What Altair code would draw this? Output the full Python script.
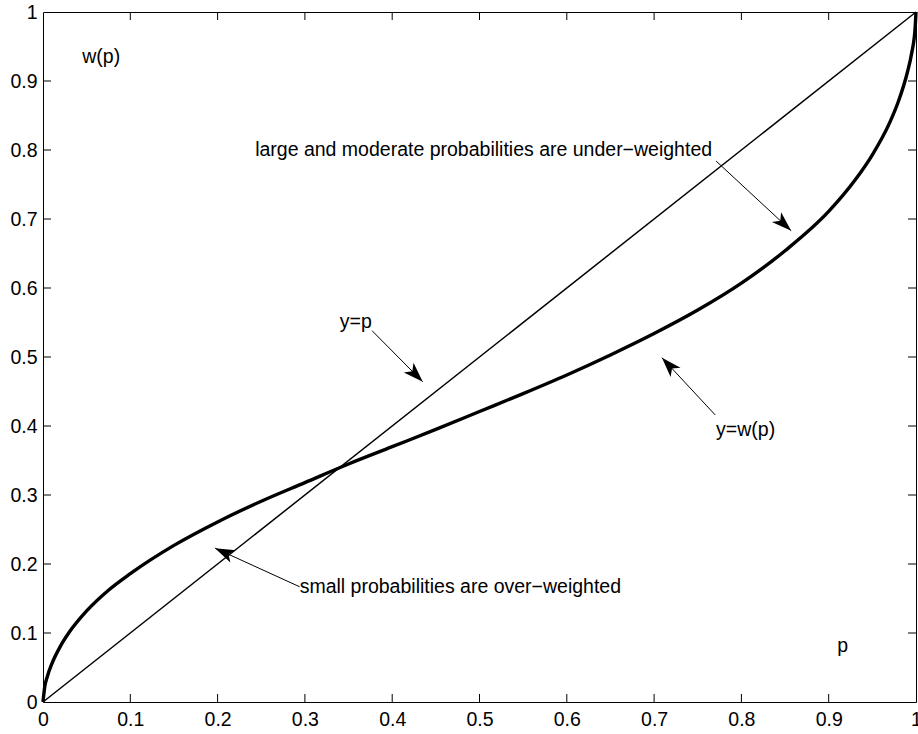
import math
import altair as alt
import pandas as pd

# ---- data ----
p_vals = [0, 0.002, 0.005, 0.01, 0.02, 0.03, 0.05, 0.075, 0.1, 0.15, 0.2, 0.25, 0.3,
          0.35, 0.4, 0.45, 0.5, 0.55, 0.6, 0.65, 0.7, 0.75, 0.8, 0.85, 0.9, 0.93,
          0.95, 0.97, 0.98, 0.99, 0.995, 0.999, 1]
w_vals = [0, 0.022, 0.037, 0.055, 0.081, 0.101, 0.132, 0.162, 0.186, 0.227, 0.261,
          0.291, 0.318, 0.345, 0.370, 0.395, 0.421, 0.447, 0.474, 0.503, 0.534,
          0.568, 0.607, 0.654, 0.711, 0.756, 0.793, 0.840, 0.871, 0.912, 0.940,
          0.977, 1]
diag_p = [0, 1]
tick_vals = [0.1, 0.2, 0.3, 0.4, 0.5, 0.6, 0.7, 0.8, 0.9]
axis_vals = [0, 0.1, 0.2, 0.3, 0.4, 0.5, 0.6, 0.7, 0.8, 0.9, 1]

label_text = ["w(p)", "y=p", "y=w(p)",
              "large and moderate probabilities are under\u2212weighted",
              "small probabilities are over\u2212weighted"]
label_x = [0.045, 0.340, 0.771, 0.243, 0.294]
label_y = [0.935, 0.551, 0.394, 0.800, 0.167]
center_text = ["p"]
center_x = [0.916]
center_y = [0.081]

arrow_x1 = [0.377, 0.770, 0.771, 0.294]
arrow_y1 = [0.538, 0.416, 0.784, 0.167]
arrow_x2 = [0.435, 0.709, 0.857, 0.197]
arrow_y2 = [0.464, 0.499, 0.683, 0.223]

W, H = 873, 690
FONT = "Liberation Sans"
FS = 19.5

curve_df = pd.DataFrame({"p": p_vals, "w": w_vals})
diag_df = pd.DataFrame({"p": diag_p, "w": diag_p})
ticks_df = pd.DataFrame({"t": tick_vals})
labels_df = pd.DataFrame({"x": label_x, "y": label_y, "text": label_text})
center_df = pd.DataFrame({"x": center_x, "y": center_y, "text": center_text})
angles = []
for a, b, c, d in zip(arrow_x1, arrow_y1, arrow_x2, arrow_y2):
    dx = (c - a) * W
    dy = -(d - b) * H
    angles.append((math.degrees(math.atan2(dx, -dy)) + 360) % 360)
arrows_df = pd.DataFrame({"x1": arrow_x1, "y1": arrow_y1, "x2": arrow_x2,
                          "y2": arrow_y2, "angle": angles})

xs = alt.Scale(domain=[0, 1], nice=False, zero=False)
ys = alt.Scale(domain=[0, 1], nice=False, zero=False)

xaxis = alt.Axis(values=axis_vals, format="~g", title=None, grid=False, ticks=False,
                 domain=False, labelFont=FONT, labelFontSize=FS, labelColor="black",
                 labelPadding=8, labelFlush=False)
yaxis = alt.Axis(values=axis_vals, format="~g", title=None, grid=False, ticks=False,
                 domain=False, labelFont=FONT, labelFontSize=FS, labelColor="black",
                 labelPadding=6)

curve = alt.Chart(curve_df).mark_line(color="black", strokeWidth=3.4, interpolate="monotone").encode(
    x=alt.X("p:Q", scale=xs, axis=xaxis),
    y=alt.Y("w:Q", scale=ys, axis=yaxis),
)
diag = alt.Chart(diag_df).mark_line(color="black", strokeWidth=1.5).encode(
    x=alt.X("p:Q", scale=xs), y=alt.Y("w:Q", scale=ys))

tick_b = alt.Chart(ticks_df).mark_rule(color="black", strokeWidth=1).encode(
    x=alt.X("t:Q", scale=xs), y=alt.value(H), y2=alt.value(H - 8))
tick_t = alt.Chart(ticks_df).mark_rule(color="black", strokeWidth=1).encode(
    x=alt.X("t:Q", scale=xs), y=alt.value(0), y2=alt.value(8))
tick_l = alt.Chart(ticks_df).mark_rule(color="black", strokeWidth=1).encode(
    y=alt.Y("t:Q", scale=ys), x=alt.value(0), x2=alt.value(8))
tick_r = alt.Chart(ticks_df).mark_rule(color="black", strokeWidth=1).encode(
    y=alt.Y("t:Q", scale=ys), x=alt.value(W), x2=alt.value(W - 8))

shafts = alt.Chart(arrows_df).mark_rule(color="black", strokeWidth=1).encode(
    x=alt.X("x1:Q", scale=xs), y=alt.Y("y1:Q", scale=ys),
    x2="x2:Q", y2="y2:Q")
heads = alt.Chart(arrows_df).mark_point(
    shape="M0,0 L-0.34,1 L0,0.74 L0.34,1 Z", filled=True, color="black",
    opacity=1, size=1600, strokeWidth=0).encode(
    x=alt.X("x2:Q", scale=xs), y=alt.Y("y2:Q", scale=ys),
    angle=alt.Angle("angle:Q", scale=None))

texts = alt.Chart(labels_df).mark_text(font=FONT, fontSize=FS, color="black",
                                       baseline="middle", align="left").encode(
    x=alt.X("x:Q", scale=xs), y=alt.Y("y:Q", scale=ys), text="text:N")
ctexts = alt.Chart(center_df).mark_text(font=FONT, fontSize=FS, color="black",
                                        baseline="middle", align="center").encode(
    x=alt.X("x:Q", scale=xs), y=alt.Y("y:Q", scale=ys), text="text:N")

chart = alt.layer(curve, diag, tick_b, tick_t, tick_l, tick_r, shafts, heads, texts, ctexts).properties(
    width=W, height=H,
    autosize=alt.AutoSizeParams(type="none"),
    padding={"left": 43, "top": 12, "right": 2, "bottom": 32},
    background="white",
).configure_view(stroke="black", strokeWidth=1)

chart.save("out.html", embed_options={"renderer": "svg", "actions": False})
